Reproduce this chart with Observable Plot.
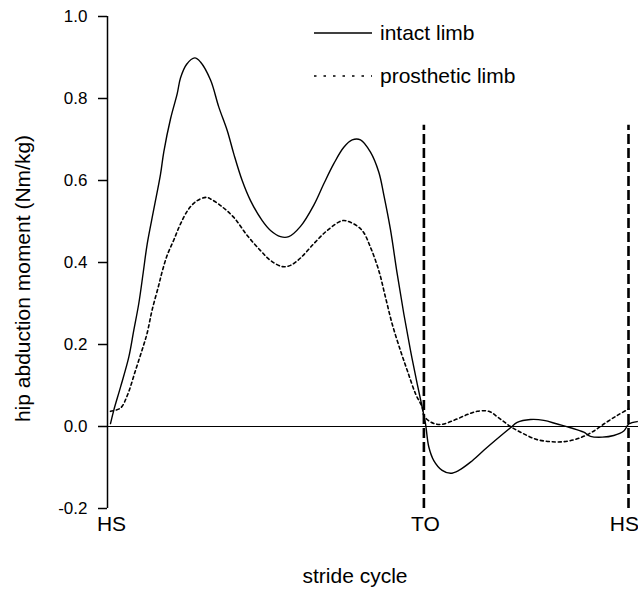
<!DOCTYPE html>
<html>
<head>
<meta charset="utf-8">
<script src="https://cdn.jsdelivr.net/npm/d3@7"></script>
<script src="https://cdn.jsdelivr.net/npm/@observablehq/plot@0.6"></script>
<style>
  html, body { margin: 0; padding: 0; background: #fff; }
  #wrap { position: relative; width: 638px; height: 598px; font-family: "Liberation Sans", Arial, Helvetica, sans-serif; }
  #legend { position: absolute; left: 314px; top: 19px; font-size: 21px; color: #000; }
  .item { display: flex; align-items: center; height: 28px; margin-bottom: 15px; }
  .item svg { margin-right: 8px; }
</style>
</head>
<body>
<div id="wrap">
  <div id="chart"></div>
  <div id="legend"></div>
</div>
<script>
// ---- data (stride cycle in %, moment in Nm/kg) ----
const intactStride = [0, 0.64, 1.93, 3.53, 4.5, 5.46, 6.31, 7.08, 8.36, 9.65, 10.29, 11.58, 12.88, 13.51, 14.67, 16.27, 17.37, 19.31, 20.91, 22.53, 23.8, 25.42, 27.03, 29.29, 30.89, 32.82, 34.42, 36.68, 39.25, 41.18, 43.11, 45.04, 46.66, 48.26, 50.19, 51.8, 52.76, 54.05, 55.35, 56.62, 57.92, 59.21, 60.17, 60.81, 61.45, 62.41, 64.03, 65.64, 67.24, 69.5, 72.07, 74.65, 77.22, 78.51, 81.08, 83.65, 86.24, 88.8, 91.37, 92.66, 94.92, 97.16, 99.09, 100.06, 101.68];
const intactMoment = [0.007, 0.04, 0.096, 0.169, 0.235, 0.3, 0.375, 0.445, 0.53, 0.615, 0.67, 0.75, 0.812, 0.85, 0.883, 0.899, 0.889, 0.845, 0.779, 0.722, 0.665, 0.6, 0.551, 0.502, 0.478, 0.463, 0.463, 0.488, 0.54, 0.592, 0.641, 0.681, 0.699, 0.699, 0.669, 0.62, 0.565, 0.48, 0.372, 0.275, 0.185, 0.104, 0.047, 0.007, -0.05, -0.083, -0.107, -0.114, -0.107, -0.087, -0.058, -0.03, -0.003, 0.01, 0.017, 0.015, 0.006, -0.003, -0.014, -0.024, -0.026, -0.022, -0.011, 0.006, 0.012];

const prostheticStride = [0, 1.93, 3.22, 4.83, 6.43, 7.08, 8.05, 9.32, 9.98, 10.95, 12.22, 13.51, 15.12, 16.74, 18.53, 19.31, 21.24, 23.8, 26.39, 28.96, 30.89, 33.15, 34.75, 36.68, 39.25, 41.83, 44.73, 46.33, 48.59, 50.19, 51.8, 53.09, 54.38, 55.98, 57.28, 58.88, 60.17, 60.48, 61.78, 63.71, 66.27, 68.86, 70.79, 73.03, 74.96, 77.22, 79.79, 82.37, 84.94, 87.51, 90.1, 92.66, 95.23, 97.82, 100.06];
const prostheticMoment = [0.037, 0.045, 0.075, 0.137, 0.2, 0.228, 0.285, 0.345, 0.378, 0.418, 0.455, 0.494, 0.531, 0.551, 0.559, 0.555, 0.539, 0.51, 0.466, 0.429, 0.405, 0.39, 0.393, 0.411, 0.446, 0.478, 0.502, 0.498, 0.478, 0.437, 0.38, 0.315, 0.25, 0.185, 0.137, 0.08, 0.047, 0.027, 0.011, 0.005, 0.015, 0.029, 0.037, 0.037, 0.021, 0.0, -0.018, -0.032, -0.037, -0.037, -0.03, -0.016, 0.006, 0.027, 0.043];

const eventLabels = ["HS", "TO", "HS"];
const eventLabelStride = [0.2, 60.8, 99.2];
const markerStride = [60.5, 100];   // dashed event lines (TO, HS)
const markerRange = [-0.2, 0.735];  // vertical extent of dashed lines
const yTicks = [-0.2, 0, 0.2, 0.4, 0.6, 0.8, 1.0];
const xDomain = [-0.58, 101.93];
const yDomain = [-0.2, 1.0];
const yLabel = "hip abduction moment (Nm/kg)";
const xLabel = "stride cycle";
const seriesNames = ["intact limb", "prosthetic limb"];

const intact = intactStride.map((s, i) => ({s, m: intactMoment[i]}));
const prosthetic = prostheticStride.map((s, i) => ({s, m: prostheticMoment[i]}));

const font = '"Liberation Sans", Arial, Helvetica, sans-serif';

const chart = Plot.plot({
  width: 638,
  height: 598,
  marginLeft: 107,
  marginRight: 0,
  marginTop: 16,
  marginBottom: 90,
  style: {fontFamily: font, background: "#fff", color: "#000", overflow: "visible"},
  x: {domain: xDomain, axis: null},
  y: {domain: yDomain, axis: null},
  marks: [
    Plot.ruleX([xDomain[0]], {y1: yDomain[0], y2: yDomain[1], stroke: "#000", strokeWidth: 1.5}),
    Plot.axisY({ticks: yTicks, tickSize: 9, tickPadding: 11, tickFormat: d => d.toFixed(1),
      fontSize: 17, stroke: "#000", strokeWidth: 1.5, label: null, anchor: "left"}),
    Plot.ruleY([0], {stroke: "#000", strokeWidth: 1.2}),
    Plot.ruleX(markerStride, {y1: markerRange[0], y2: markerRange[1], stroke: "#000", strokeWidth: 2.6, strokeDasharray: "10,4"}),
    Plot.line(prosthetic, {x: "s", y: "m", stroke: "#000", strokeWidth: 1.6, strokeDasharray: "3,3", curve: "catmull-rom"}),
    Plot.line(intact, {x: "s", y: "m", stroke: "#000", strokeWidth: 1.4, curve: "catmull-rom"}),
    Plot.text(eventLabels, {x: (d, i) => eventLabelStride[i], text: d => d, frameAnchor: "bottom", textAnchor: "middle", dy: 22, fontSize: 21, fill: "#000"}),
    Plot.text([xLabel], {frameAnchor: "bottom", textAnchor: "middle", dx: -18, dy: 74, fontSize: 21, fill: "#000"}),
    Plot.text([yLabel], {frameAnchor: "left", textAnchor: "middle", rotate: -90, dx: -84, dy: 16, fontSize: 21, fill: "#000"})
  ]
});
document.getElementById("chart").appendChild(chart);

// legend (inside plot area, top-right)
const legend = document.getElementById("legend");
const dashes = [null, "2.5,7"];
seriesNames.forEach((name, i) => {
  const item = document.createElement("div");
  item.className = "item";
  const dash = dashes[i] ? ` stroke-dasharray="${dashes[i]}"` : "";
  item.innerHTML = `<svg width="58" height="4"><line x1="0" y1="2" x2="58" y2="2" stroke="#000" stroke-width="1.5"${dash}/></svg><span>${name}</span>`;
  legend.appendChild(item);
});
</script>
</body>
</html>
